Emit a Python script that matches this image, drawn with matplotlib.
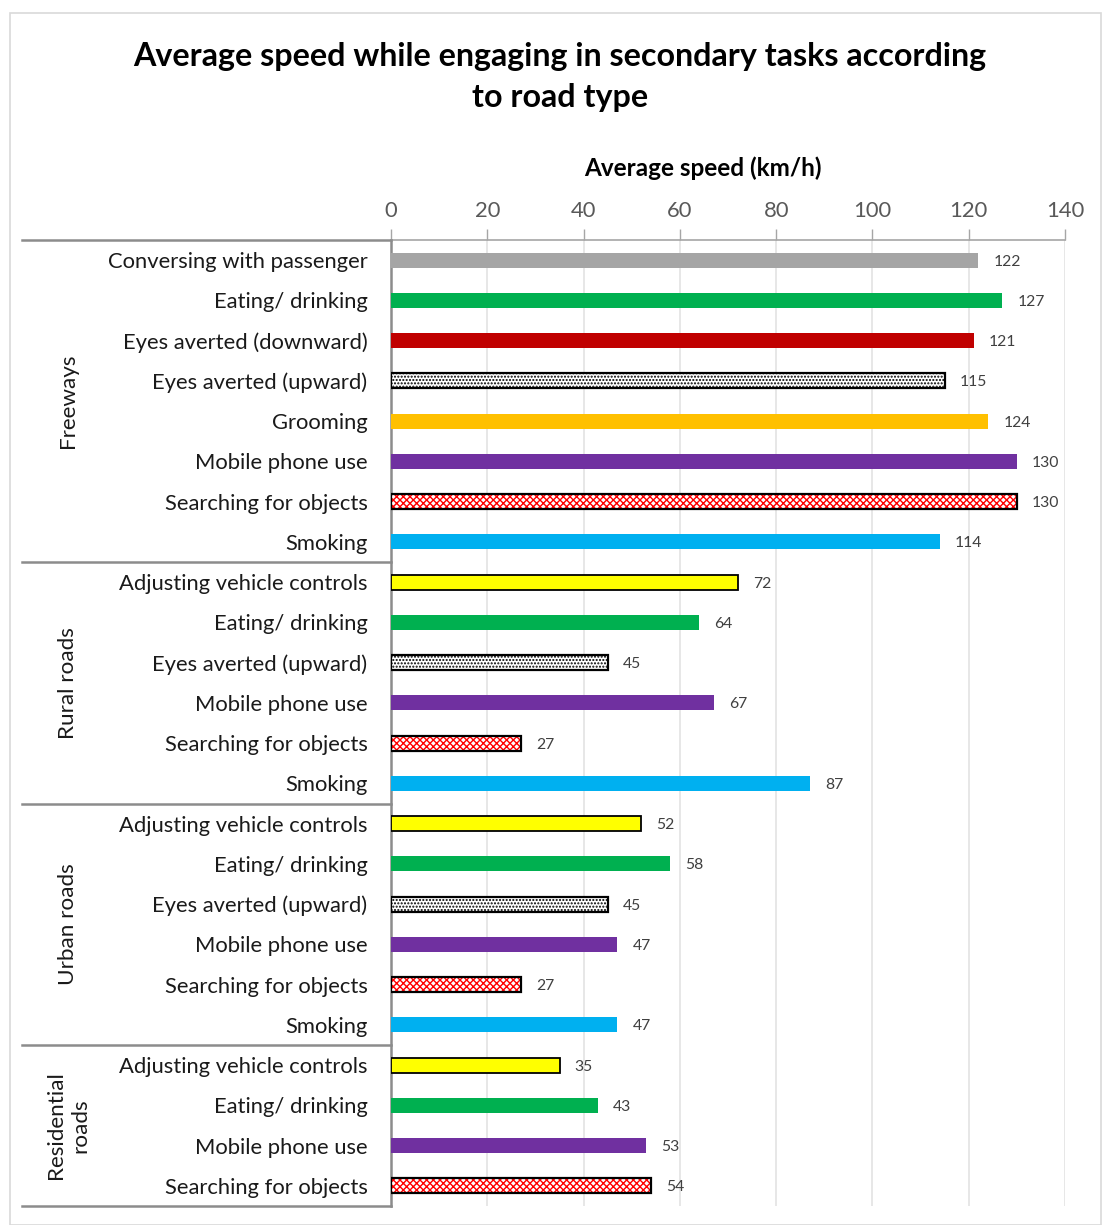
import matplotlib
matplotlib.use("Agg")
import matplotlib.pyplot as plt
from matplotlib.lines import Line2D
from matplotlib.patches import Rectangle
import matplotlib.transforms as mtransforms

plt.rcParams['font.family'] = ['Lato', 'DejaVu Sans']

# ---- data ----
groups = ["Freeways", "Rural roads", "Urban roads", "Residential\nroads"]
freeway_tasks = ["Conversing with passenger", "Eating/ drinking", "Eyes averted (downward)",
                 "Eyes averted (upward)", "Grooming", "Mobile phone use",
                 "Searching for objects", "Smoking"]
freeway_speed = [122, 127, 121, 115, 124, 130, 130, 114]
rural_tasks = ["Adjusting vehicle controls", "Eating/ drinking", "Eyes averted (upward)",
               "Mobile phone use", "Searching for objects", "Smoking"]
rural_speed = [72, 64, 45, 67, 27, 87]
urban_tasks = ["Adjusting vehicle controls", "Eating/ drinking", "Eyes averted (upward)",
               "Mobile phone use", "Searching for objects", "Smoking"]
urban_speed = [52, 58, 45, 47, 27, 47]
residential_tasks = ["Adjusting vehicle controls", "Eating/ drinking",
                     "Mobile phone use", "Searching for objects"]
residential_speed = [35, 43, 53, 54]
x_ticks = [0, 20, 40, 60, 80, 100, 120, 140]

# ---- styles per task ----
task_style = {
    "Conversing with passenger": dict(color="#A5A5A5"),
    "Eating/ drinking": dict(color="#00B050"),
    "Eyes averted (downward)": dict(color="#C00000"),
    "Eyes averted (upward)": dict(color="white", hatch=".....", hatchcolor="black", edge="black"),
    "Grooming": dict(color="#FFC000"),
    "Mobile phone use": dict(color="#7030A0"),
    "Searching for objects": dict(color="white", hatch="xxxxx", hatchcolor="#FF0000", edge="black"),
    "Smoking": dict(color="#00B0F0"),
    "Adjusting vehicle controls": dict(color="#FFFF00", edge="black"),
}

group_tasks = [freeway_tasks, rural_tasks, urban_tasks, residential_tasks]
group_speeds = [freeway_speed, rural_speed, urban_speed, residential_speed]

tasks = [t for g in group_tasks for t in g]
speeds = [v for g in group_speeds for v in g]
ypos = list(range(len(tasks)))

fig = plt.figure(figsize=(11.02, 12.25), dpi=100)
W, H = 1102, 1225
ax = fig.add_axes([391 / W, 1 - 1206 / H, (1065 - 391) / W, (1206 - 240) / H])

bar_h = 0.37
for y, t, v in zip(ypos, tasks, speeds):
    st = task_style[t]
    if "hatch" in st:
        ax.barh(y, v, height=bar_h, color="white", edgecolor=st["hatchcolor"],
                hatch=st["hatch"], linewidth=0, zorder=3)
        ax.barh(y, v, height=bar_h, color="none", edgecolor=st["edge"],
                linewidth=1.6, zorder=4)
    elif "edge" in st:
        ax.barh(y, v, height=bar_h, color=st["color"], edgecolor=st["edge"],
                linewidth=1.3, zorder=3)
    else:
        ax.barh(y, v, height=bar_h, color=st["color"], linewidth=0, zorder=3)
    ax.annotate(str(v), xy=(v, y), xytext=(11, -1), textcoords="offset points",
                ha="left", va="center", fontsize=11.3, color="#404040")

ax.set_xlim(0, 140)
ax.set_ylim(len(tasks) - 0.5, -0.5)
ax.set_xticks(x_ticks)
ax.xaxis.tick_top()
ax.xaxis.set_label_position("top")
ax.tick_params(axis="x", direction="out", length=8, width=1, color="#A6A6A6",
               labelsize=15.8, labelcolor="#595959", pad=6)
ax.set_yticks(ypos)
ax.set_yticklabels(tasks, fontsize=15.8, color="#1a1a1a")
ax.tick_params(axis="y", length=0, pad=17)
ax.grid(axis="x", color="#E3E3E3", linewidth=1.2, zorder=0)
ax.set_axisbelow(True)
for s in ["right", "bottom"]:
    ax.spines[s].set_visible(False)
ax.spines["top"].set_color("#A6A6A6")
ax.spines["top"].set_linewidth(1.2)
ax.spines["left"].set_color("#8C8C8C")
ax.spines["left"].set_linewidth(1.8)
ax.set_xlabel("Average speed (km/h)", fontsize=17.5, fontweight="bold", labelpad=18)
ax.xaxis.label.set_x((703 - 391) / (1065 - 391))

# group separators and labels on the left
trans = mtransforms.blended_transform_factory(fig.transFigure, ax.transData)
bounds = [-0.5]
for g in group_tasks:
    bounds.append(bounds[-1] + len(g))
for b in bounds:
    fig.add_artist(Line2D([22 / W, 391 / W], [b, b], transform=trans,
                          color="#8C8C8C", linewidth=1.8))
for i, name in enumerate(groups):
    mid = (bounds[i] + bounds[i + 1]) / 2
    fig.text(68 / W, mid, name, transform=trans, rotation=90, ha="center",
             va="center", fontsize=16.2, color="#1a1a1a", linespacing=1.3)

fig.suptitle("Average speed while engaging in secondary tasks according\nto road type",
             x=560 / W, y=1 - 42 / H, fontsize=23.2, fontweight="bold", va="top",
             linespacing=1.52)

fig.add_artist(Rectangle((10 / W, 0), (W - 11) / W, (H - 13) / H, transform=fig.transFigure,
                         fill=False, edgecolor="#D9D9D9", linewidth=1.2))

fig.savefig("out.png", dpi=100)
